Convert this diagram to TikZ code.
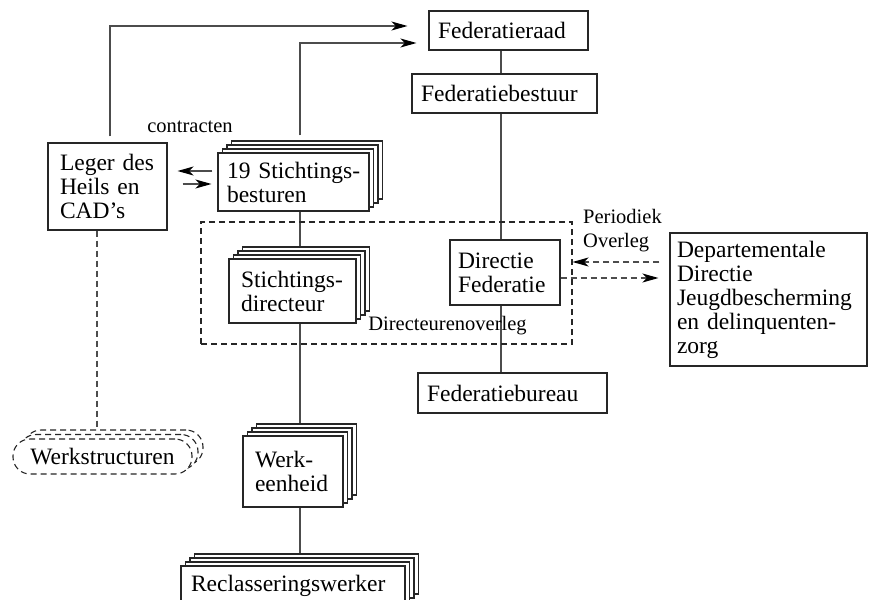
\documentclass[tikz,border=0pt]{standalone}
\usepackage{fontspec}
\setmainfont{Liberation Serif}
\usetikzlibrary{calc,shadows,backgrounds,arrows.meta}
\begin{document}
\begin{tikzpicture}[x=1pt,y=-1pt,
  bord/.style={draw=black!85, line width=1.1pt, fill=white},
  box/.style={bord, font=\fontsize{23.5pt}{24pt}\selectfont, align=left, inner ysep=0pt},
  shcopy/.style={general shadow={draw=black!85, fill=white, line width=1.1pt, #1}},
  stackbox/.style={box,
    shcopy={shadow xshift=13.5pt, shadow yshift=12pt},
    shcopy={shadow xshift=9pt, shadow yshift=8pt},
    shcopy={shadow xshift=4.5pt, shadow yshift=4pt}},
  dsh/.style={dash pattern=on 6pt off 4pt},
  conn/.style={draw=black!70, line width=1.1pt},
  arr/.style={-{Stealth[length=16pt,width=9pt,inset=4.5pt,color=black]}},
  lbl/.style={font=\fontsize{20.5pt}{24pt}\selectfont, align=left, inner sep=0pt}
]
\useasboundingbox (0,0) rectangle (869,599);
\clip (0,0) rectangle (869,599);

\coordinate (spine) at (300,0);
\coordinate (fspine) at (501,0);

% dashed overleg frame
\node[draw=black!85, line width=1.1pt, dsh, minimum width=371pt, minimum height=122pt, inner sep=0pt] (ovl) at (386.5,283) {};

% federation column
\node[box, minimum width=159pt, minimum height=39pt, text width=141pt, inner xsep=9pt] (raad) at (508.5,30.5) {Federatieraad};
\node[box, minimum width=185pt, minimum height=39pt, text width=167pt, inner xsep=9pt] (bestuur) at (504.5,93.5) {Federatiebestuur};
\node[box, minimum width=110pt, minimum height=65pt, text width=94pt, inner xsep=8pt] (dir) at (505,272.5) {Directie\\Federatie};
\node[box, minimum width=189pt, minimum height=40pt, text width=171pt, inner xsep=9pt] (bureau) at (512.5,393) {Federatiebureau};
\node[box, minimum width=197pt, minimum height=133pt, text width=183pt, inner xsep=7pt] (dept) at (768.5,299.5) {Departementale\\Directie\\Jeugdbescherming\\en delinquenten-\\zorg};

% left part
\node[box, minimum width=119pt, minimum height=87pt, text width=95pt, inner xsep=12pt] (lg) at (107.5,186.5) {Leger des\\Heils en\\CAD's};
\node[stackbox, minimum width=151pt, minimum height=58pt, text width=133pt, inner xsep=9pt] (sb) at (293.5,182) {\mbox{19 Stichtings-}\\besturen};
\node[stackbox, minimum width=127pt, minimum height=64pt, text width=103pt, inner xsep=12pt] (sd) at (292.5,291) {Stichtings-\\directeur};
\node[stackbox, minimum width=100pt, minimum height=71pt, text width=76pt, inner xsep=12pt] (we) at (293,471.5) {Werk-\\eenheid};
\node[stackbox, minimum width=224pt, minimum height=40pt, text width=204pt, inner xsep=10pt] (rw) at (293,586) {Reclasseringswerker};
\node[box, dsh, rounded corners=17pt, minimum width=179pt, minimum height=35pt, inner xsep=10pt,
  general shadow={draw=black!85, fill=white, line width=1.1pt, dsh, shadow xshift=11pt, shadow yshift=9pt},
  general shadow={draw=black!85, fill=white, line width=1.1pt, dsh, shadow xshift=6pt, shadow yshift=4.5pt}] (ws) at (102.5,456.5) {Werkstructuren};

% labels
\node[lbl] (con) at (190,127) {contracten};
\node[lbl] (dov) at (447.5,326) {Directeurenoverleg};
\node[lbl, anchor=west] (per) at (583,230.5) {Periodiek\\Overleg};

% connectors behind boxes
\begin{pgfonlayer}{background}
\draw[conn] (sb.south -| spine) -- (rw.north -| spine);
\draw[conn] (raad.south -| fspine) -- (bureau.north -| fspine);
\draw[conn, dsh] ($(lg.south)+(-10.5,0)$) -- ($(ws.north)+(-5.5,0)$);
\end{pgfonlayer}

% arrows to Federatieraad
\draw[conn, arr] ($(lg.north)+(2.5,-6)$) |- ($(raad.west)+(-21,-4.5)$);
\draw[conn, arr] ($(sb.north -| spine)+(0,-17)$) |- ($(raad.west)+(-12,12.5)$);

% contracts arrows
\draw[conn, arr] ($(sb.west)+(-5,-11)$) -- ($(lg.east |- sb.west)+(10,-11)$);
\draw[conn, arr] ($(lg.east |- sb.west)+(15,2)$) -- ($(sb.west)+(-6,2)$);

% periodiek overleg arrows
\draw[conn, dsh, arr] ($(dept.west |- dir.east)+(-10,-10.5)$) -- ($(ovl.east |- dir.east)+(0,-10.5)$);
\draw[conn, dsh, arr] ($(dir.east)+(0,5.5)$) -- ($(dept.west |- dir.east)+(-11,5.5)$);
\end{tikzpicture}
\end{document}
